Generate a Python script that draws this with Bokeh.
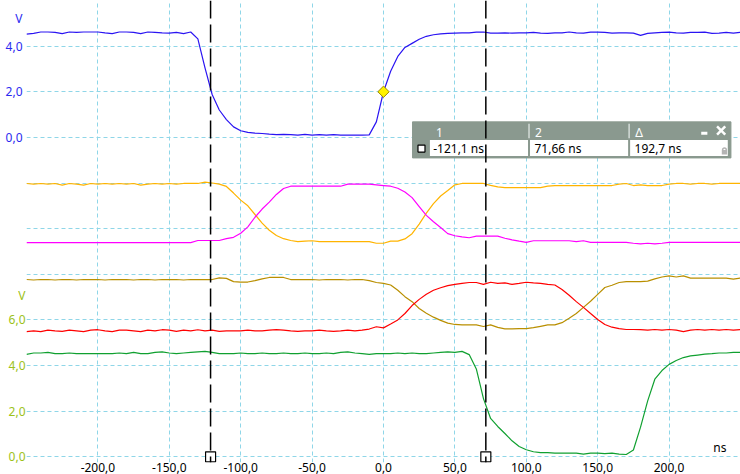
import math
from bokeh.plotting import figure
from bokeh.models import Range1d, LinearAxis, FixedTicker, Span
from bokeh.embed import file_html
from bokeh.resources import INLINE
from bokeh.core.properties import value

# ---------------- data ----------------
time_ns = list(range(-250, 251, 5))

blue_v = [
    4.53, 4.56, 4.62, 4.62, 4.60, 4.55, 4.62, 4.60, 4.62, 4.62,
    4.62, 4.58, 4.55, 4.62, 4.62, 4.60, 4.55, 4.62, 4.60, 4.58,
    4.57, 4.60, 4.55, 4.62, 4.32, 3.05, 1.88, 1.20, 0.78, 0.46,
    0.29, 0.22, 0.19, 0.17, 0.14, 0.12, 0.13, 0.12, 0.10, 0.13,
    0.10, 0.12, 0.10, 0.12, 0.10, 0.10, 0.10, 0.10, 0.11, 0.68,
    2.00, 2.90, 3.55, 3.94, 4.12, 4.30, 4.43, 4.50, 4.54, 4.56,
    4.57, 4.58, 4.58, 4.61, 4.62, 4.57, 4.57, 4.58, 4.57, 4.58,
    4.58, 4.60, 4.57, 4.56, 4.58, 4.58, 4.62, 4.58, 4.57, 4.61,
    4.61, 4.60, 4.57, 4.58, 4.58, 4.57, 4.47, 4.56, 4.58, 4.60,
    4.61, 4.58, 4.57, 4.60, 4.60, 4.61, 4.56, 4.57, 4.60, 4.57,
    4.61,
]

orange_v = [
    11.98, 11.95, 11.98, 11.95, 11.98, 11.91, 11.98, 11.95, 11.91, 11.98,
    11.95, 11.98, 11.95, 11.98, 11.95, 11.98, 11.91, 11.95, 11.98, 11.95,
    11.98, 11.95, 11.98, 11.98, 11.98, 12.04, 12.00, 11.95, 11.85, 11.56,
    11.25, 11.00, 10.62, 10.24, 9.93, 9.70, 9.56, 9.48, 9.43, 9.45,
    9.47, 9.43, 9.43, 9.43, 9.43, 9.43, 9.43, 9.43, 9.43, 9.36,
    9.36, 9.45, 9.45, 9.55, 9.78, 10.20, 10.68, 11.10, 11.43, 11.67,
    11.92, 11.98, 11.98, 11.98, 11.98, 11.90, 11.83, 11.80, 11.80, 11.80,
    11.80, 11.80, 11.80, 11.86, 11.89, 11.89, 11.89, 11.89, 11.89, 11.89,
    11.89, 11.89, 11.89, 11.95, 11.98, 11.89, 11.92, 11.89, 11.89, 11.89,
    11.95, 11.98, 11.98, 11.95, 11.98, 11.98, 11.95, 11.98, 11.98, 11.98,
    11.98,
]

magenta_v = [
    9.39, 9.39, 9.39, 9.39, 9.39, 9.39, 9.39, 9.39, 9.39, 9.39,
    9.39, 9.39, 9.39, 9.39, 9.39, 9.39, 9.39, 9.39, 9.39, 9.39,
    9.39, 9.39, 9.39, 9.39, 9.48, 9.48, 9.48, 9.48, 9.56, 9.62,
    9.80, 10.08, 10.50, 10.86, 11.16, 11.50, 11.76, 11.86, 11.86, 11.86,
    11.86, 11.86, 11.86, 11.86, 11.86, 11.95, 11.95, 11.95, 11.95, 11.92,
    11.89, 11.86, 11.77, 11.61, 11.36, 10.97, 10.58, 10.30, 10.05, 9.78,
    9.69, 9.64, 9.60, 9.67, 9.67, 9.67, 9.67, 9.58, 9.51, 9.45,
    9.40, 9.47, 9.47, 9.47, 9.47, 9.47, 9.47, 9.43, 9.47, 9.40,
    9.40, 9.40, 9.40, 9.40, 9.40, 9.36, 9.33, 9.36, 9.33, 9.36,
    9.40, 9.40, 9.40, 9.40, 9.40, 9.40, 9.40, 9.40, 9.40, 9.40,
    9.40,
]

olive_v = [
    7.77, 7.75, 7.77, 7.77, 7.75, 7.77, 7.77, 7.75, 7.77, 7.77,
    7.77, 7.75, 7.77, 7.77, 7.77, 7.75, 7.77, 7.77, 7.75, 7.77,
    7.77, 7.77, 7.75, 7.77, 7.77, 7.77, 7.77, 7.84, 7.82, 7.68,
    7.66, 7.66, 7.72, 7.80, 7.86, 7.86, 7.86, 7.77, 7.77, 7.77,
    7.77, 7.75, 7.77, 7.77, 7.77, 7.75, 7.77, 7.77, 7.72, 7.64,
    7.60, 7.53, 7.30, 7.02, 6.80, 6.50, 6.29, 6.12, 5.98, 5.86,
    5.80, 5.78, 5.78, 5.78, 5.71, 5.78, 5.67, 5.61, 5.61, 5.62,
    5.62, 5.66, 5.72, 5.78, 5.78, 5.88, 6.07, 6.28, 6.55, 6.82,
    7.12, 7.42, 7.52, 7.64, 7.68, 7.68, 7.68, 7.70, 7.80, 7.88,
    7.93, 7.88, 7.93, 7.83, 7.83, 7.83, 7.83, 7.83, 7.83, 7.79,
    7.83,
]

red_v = [
    5.49, 5.52, 5.49, 5.55, 5.52, 5.50, 5.55, 5.52, 5.49, 5.55,
    5.57, 5.52, 5.49, 5.55, 5.55, 5.52, 5.49, 5.55, 5.52, 5.57,
    5.55, 5.50, 5.55, 5.52, 5.57, 5.52, 5.55, 5.50, 5.52, 5.52,
    5.52, 5.55, 5.52, 5.52, 5.55, 5.57, 5.55, 5.52, 5.50, 5.52,
    5.52, 5.55, 5.52, 5.50, 5.52, 5.55, 5.52, 5.55, 5.60, 5.70,
    5.65, 5.82, 6.00, 6.28, 6.63, 6.90, 7.12, 7.30, 7.41, 7.50,
    7.56, 7.60, 7.64, 7.64, 7.56, 7.65, 7.60, 7.62, 7.56, 7.60,
    7.65, 7.62, 7.60, 7.56, 7.53, 7.33, 7.08, 6.80, 6.55, 6.28,
    6.02, 5.80, 5.68, 5.62, 5.58, 5.58, 5.57, 5.55, 5.58, 5.55,
    5.58, 5.55, 5.49, 5.55, 5.58, 5.55, 5.58, 5.55, 5.58, 5.55,
    5.58,
]

green_v = [
    4.49, 4.55, 4.55, 4.58, 4.52, 4.52, 4.55, 4.52, 4.52, 4.52,
    4.52, 4.52, 4.52, 4.55, 4.52, 4.58, 4.52, 4.52, 4.58, 4.60,
    4.55, 4.52, 4.55, 4.58, 4.60, 4.62, 4.58, 4.52, 4.52, 4.52,
    4.55, 4.52, 4.52, 4.55, 4.52, 4.52, 4.55, 4.52, 4.52, 4.55,
    4.52, 4.52, 4.55, 4.52, 4.58, 4.60, 4.55, 4.52, 4.49, 4.52,
    4.52, 4.52, 4.55, 4.52, 4.55, 4.52, 4.52, 4.55, 4.58, 4.60,
    4.58, 4.62, 4.48, 3.85, 2.55, 1.68, 1.33, 1.02, 0.70, 0.45,
    0.31, 0.22, 0.18, 0.18, 0.16, 0.16, 0.16, 0.16, 0.12, 0.16,
    0.16, 0.14, 0.16, 0.12, 0.10, 0.30, 1.30, 2.45, 3.40, 3.78,
    4.05, 4.22, 4.35, 4.42, 4.46, 4.50, 4.52, 4.55, 4.55, 4.58,
    4.58,
]

x_ticks = [-200, -150, -100, -50, 0, 50, 100, 150, 200]
x_grid = [-250, -200, -150, -100, -50, 0, 50, 100, 150, 200, 250]
y_grid = [0, 2, 4, 6, 8, 10, 12, 14, 16, 18, 20]
green_ticks = [0, 2, 4, 6]
blue_ticks = [0, 2, 4]
green_unit_pos = 7.05
blue_unit_pos = 5.2

cursor_ns = [-121.1, 71.66]
trigger_ns, trigger_v = 0.0, 2.0
table_headers = ["1", "2", "\u0394"]
table_values = ["-121,1 ns", "71,66 ns", "192,7 ns"]

# ---------------- style ----------------
BLUE = "#2a14f2"
ORANGE = "#ffb400"
MAGENTA = "#ff00ff"
OLIVE = "#b98f00"
RED = "#ff0000"
GREEN = "#10a030"
GRID = "#8fd6e8"
GREEN_LBL = "#9cc21a"
BLUE_LBL = "#2b2bf0"
HDR = "#8a998f"
FONT = "Noto Sans"


def fmt(v):
    return f"{v:.1f}".replace(".", ",")


p = figure(width=740, height=474, output_backend="svg", toolbar_location=None,
           x_range=Range1d(-250, 250), y_range=Range1d(-0.25, 20),
           min_border_left=26, min_border_right=0, min_border_top=0,
           min_border_bottom=0,
           background_fill_color="white", border_fill_color="white")
p.outline_line_color = None
p.extra_y_ranges = {"blue": Range1d(-14.25, 6)}

# grids
p.xgrid.ticker = FixedTicker(ticks=x_grid)
p.ygrid.ticker = FixedTicker(ticks=y_grid)
for g in (p.xgrid[0], p.ygrid[0]):
    g.grid_line_color = GRID
    g.grid_line_dash = "4 3"
    g.grid_line_width = 1

# x axis
xa = p.xaxis[0]
xa.ticker = FixedTicker(ticks=x_ticks)
xa.major_label_overrides = {v: fmt(v) for v in x_ticks}
xa.axis_line_color = None
xa.major_tick_line_color = None
xa.minor_tick_line_color = None
xa.major_tick_out = 0
xa.major_tick_in = 0
xa.minor_tick_out = 0
xa.major_label_text_font = FONT
xa.major_label_text_font_size = "12px"
xa.major_label_text_color = "black"
xa.major_label_standoff = 0

# green (inner) y axis
ga = p.yaxis[0]
ga.ticker = FixedTicker(ticks=green_ticks + [green_unit_pos])
ovr = {v: fmt(v) for v in green_ticks}
ovr[green_unit_pos] = "V"
ga.major_label_overrides = ovr
ga.axis_line_color = None
ga.major_tick_line_color = None
ga.minor_tick_line_color = None
ga.major_tick_out = 0
ga.major_tick_in = 0
ga.minor_tick_out = 0
ga.major_label_text_font = FONT
ga.major_label_text_font_size = "12px"
ga.major_label_text_color = GREEN_LBL
ga.major_label_standoff = 1

# blue (outer) y axis, labels pulled into the same column
bovr = {v: fmt(v) for v in blue_ticks}
bovr[blue_unit_pos] = "V"
ba = LinearAxis(y_range_name="blue",
                ticker=FixedTicker(ticks=blue_ticks + [blue_unit_pos]),
                major_label_overrides=bovr,
                axis_line_color=None, major_tick_line_color=None,
                minor_tick_line_color=None,
                major_tick_out=0, major_tick_in=0, minor_tick_out=0,
                major_label_text_font=FONT, major_label_text_font_size="12px",
                major_label_text_color=BLUE_LBL, major_label_standoff=-17)
p.add_layout(ba, "left")

# traces
p.line(time_ns, orange_v, line_color=ORANGE, line_width=1.2)
p.line(time_ns, magenta_v, line_color=MAGENTA, line_width=1.2)
p.line(time_ns, olive_v, line_color=OLIVE, line_width=1.2)
p.line(time_ns, red_v, line_color=RED, line_width=1.2)
p.line(time_ns, green_v, line_color=GREEN, line_width=1.2)
p.line(time_ns, blue_v, y_range_name="blue", line_color=BLUE, line_width=1.2)

# cursors
for c in cursor_ns:
    p.add_layout(Span(location=c, dimension="height", line_color="black",
                      line_dash="18 6", line_width=1.5))
p.scatter(cursor_ns, [0] * len(cursor_ns), marker="square", size=10,
          fill_color="white", line_color="black", line_width=1.2)

# trigger marker
p.scatter([trigger_ns], [trigger_v], y_range_name="blue", marker="square",
          angle=math.pi / 4, size=8, fill_color="#fff200", line_color="#9a8a00")

# cursor table
p.quad(left=[20.3], right=[243.3], top=[14.68], bottom=[13.10],
       fill_color=HDR, line_color=HDR)
p.quad(left=[32.5], right=[241.1], top=[13.89], bottom=[13.18],
       fill_color="white", line_color=None)
p.segment(x0=[101.9, 172.0], y0=[13.89, 13.89], x1=[101.9, 172.0],
          y1=[13.18, 13.18], line_color=HDR, line_width=2)
p.segment(x0=[101.9, 172.0], y0=[14.60, 14.60], x1=[101.9, 172.0],
          y1=[13.96, 13.96], line_color="#d4dcd8", line_width=1.5)
p.text(x=[36.7, 106.1, 176.3], y=[14.22] * 3, text=table_headers,
       text_color="white", text_font=value(FONT), text_font_size="12px",
       text_baseline="middle", text_align="left")
p.text(x=[34.8, 105.7, 175.8], y=[13.50] * 3, text=table_values,
       text_color="black", text_font=value(FONT), text_font_size="12px",
       text_baseline="middle", text_align="left")
p.scatter([26.6], [13.51], marker="square", size=7, fill_color="white",
          line_color="black", line_width=1.2)
p.quad(left=[222.5], right=[226.8], top=[14.25], bottom=[14.12],
       fill_color="white", line_color=None)
p.segment(x0=[233.6, 233.6], y0=[14.48, 14.12], x1=[239.3, 239.3],
          y1=[14.12, 14.48], line_color="white", line_width=2.5)
p.quad(left=[236.9], right=[240.6], top=[13.45], bottom=[13.25],
       fill_color="#b4b4b4", line_color=None)
p.arc(x=[238.75], y=[13.45], radius=1.3, start_angle=0, end_angle=math.pi,
      line_color="#b4b4b4", line_width=1.5)

# unit label for the time axis
p.text(x=[235.6], y=[0.42], text=["ns"], text_color="black",
       text_font=value(FONT), text_font_size="12px",
       text_baseline="middle", text_align="center")

open("out.html", "w").write(file_html(p, INLINE))
